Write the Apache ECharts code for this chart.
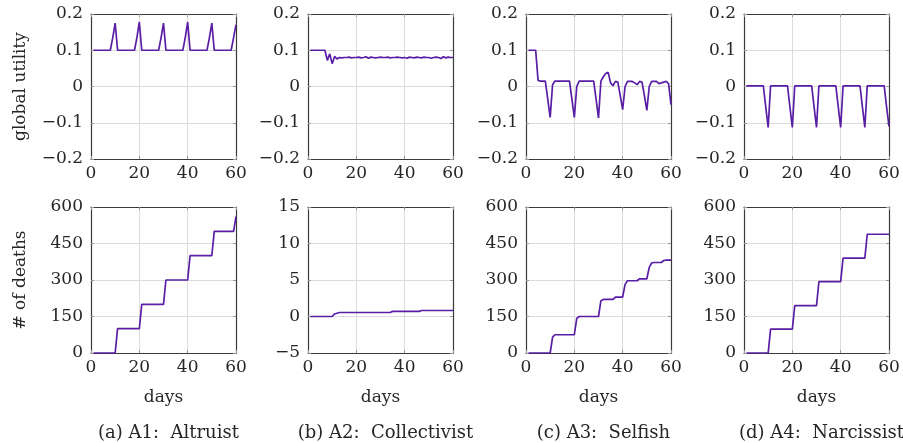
<!DOCTYPE html>
<html>
<head>
<meta charset="utf-8">
<script src="https://cdn.jsdelivr.net/npm/echarts@6/dist/echarts.min.js"></script>
<style>
html, body { margin: 0; padding: 0; background: #fff; }
#main { width: 903px; height: 443px; }
</style>
</head>
<body>
<div id="main"></div>
<script>
// days 1..60
var days = [1, 2, 3, 4, 5, 6, 7, 8, 9, 10, 11, 12, 13, 14, 15, 16, 17, 18, 19, 20,
	21, 22, 23, 24, 25, 26, 27, 28, 29, 30, 31, 32, 33, 34, 35, 36, 37, 38, 39, 40,
	41, 42, 43, 44, 45, 46, 47, 48, 49, 50, 51, 52, 53, 54, 55, 56, 57, 58, 59, 60];

// global utility
var utilA1 = [0.1, 0.1, 0.1, 0.1, 0.1, 0.1, 0.1, 0.1, 0.135, 0.175,
	0.1, 0.1, 0.1, 0.1, 0.1, 0.1, 0.1, 0.1, 0.135, 0.178,
	0.1, 0.1, 0.1, 0.1, 0.1, 0.1, 0.1, 0.1, 0.135, 0.175,
	0.1, 0.1, 0.1, 0.1, 0.1, 0.1, 0.1, 0.1, 0.135, 0.178,
	0.1, 0.1, 0.1, 0.1, 0.1, 0.1, 0.1, 0.1, 0.135, 0.175,
	0.1, 0.1, 0.1, 0.1, 0.1, 0.1, 0.1, 0.1, 0.135, 0.17];
var utilA2 = [0.1, 0.1, 0.1, 0.1, 0.1, 0.1, 0.1, 0.072, 0.09, 0.063,
	0.083, 0.076, 0.08, 0.079, 0.08, 0.08, 0.081, 0.079, 0.08, 0.08,
	0.081, 0.079, 0.08, 0.082, 0.078, 0.081, 0.08, 0.079, 0.08, 0.081,
	0.08, 0.08, 0.081, 0.079, 0.08, 0.08, 0.081, 0.08, 0.079, 0.08,
	0.078, 0.081, 0.08, 0.079, 0.081, 0.08, 0.079, 0.081, 0.08, 0.08,
	0.078, 0.08, 0.081, 0.08, 0.077, 0.082, 0.079, 0.081, 0.08, 0.08];
var utilA3 = [0.1, 0.1, 0.1, 0.1, 0.017, 0.015, 0.015, 0.015, -0.035, -0.085,
	0.005, 0.015, 0.015, 0.015, 0.015, 0.015, 0.015, 0.015, -0.035, -0.085,
	0.0, 0.015, 0.015, 0.015, 0.015, 0.015, 0.015, 0.015, -0.035, -0.087,
	0.015, 0.027, 0.036, 0.039, 0.01, 0.002, 0.014, 0.012, -0.025, -0.064,
	0.0, 0.014, 0.014, 0.014, 0.01, 0.005, 0.014, 0.012, -0.025, -0.066,
	0.0, 0.014, 0.014, 0.014, 0.008, 0.01, 0.012, 0.014, 0.008, -0.05];
var utilA4 = [0.002, 0.002, 0.002, 0.002, 0.002, 0.002, 0.002, 0.002, -0.056, -0.113,
	0.002, 0.002, 0.002, 0.002, 0.002, 0.002, 0.002, 0.002, -0.056, -0.113,
	0.002, 0.002, 0.002, 0.002, 0.002, 0.002, 0.002, 0.002, -0.056, -0.113,
	0.002, 0.002, 0.002, 0.002, 0.002, 0.002, 0.002, 0.002, -0.056, -0.113,
	0.002, 0.002, 0.002, 0.002, 0.002, 0.002, 0.002, 0.002, -0.056, -0.113,
	0.002, 0.002, 0.002, 0.002, 0.002, 0.002, 0.002, 0.002, -0.056, -0.11];

// # of deaths
var deathsA1 = [0, 0, 0, 0, 0, 0, 0, 0, 0, 0,
	100, 100, 100, 100, 100, 100, 100, 100, 100, 100,
	200, 200, 200, 200, 200, 200, 200, 200, 200, 200,
	300, 300, 300, 300, 300, 300, 300, 300, 300, 300,
	400, 400, 400, 400, 400, 400, 400, 400, 400, 400,
	500, 500, 500, 500, 500, 500, 500, 500, 500, 560];
var deathsA2 = [0, 0, 0, 0, 0, 0, 0, 0, 0, 0,
	0.35, 0.45, 0.55, 0.55, 0.55, 0.55, 0.55, 0.55, 0.55, 0.55,
	0.55, 0.55, 0.55, 0.55, 0.55, 0.55, 0.55, 0.55, 0.55, 0.55,
	0.55, 0.55, 0.55, 0.55, 0.7, 0.7, 0.7, 0.7, 0.7, 0.7,
	0.7, 0.7, 0.7, 0.7, 0.7, 0.7, 0.82, 0.82, 0.82, 0.82,
	0.82, 0.82, 0.82, 0.82, 0.82, 0.82, 0.82, 0.82, 0.82, 0.82];
var deathsA3 = [0, 0, 0, 0, 0, 0, 0, 0, 0, 0,
	65, 75, 75, 75, 75, 75, 75, 75, 75, 75,
	142, 150, 150, 150, 150, 150, 150, 150, 150, 150,
	215, 220, 220, 220, 220, 220, 230, 230, 230, 230,
	282, 297, 297, 297, 297, 297, 305, 305, 305, 305,
	352, 370, 372, 372, 372, 372, 380, 382, 382, 382];
var deathsA4 = [0, 0, 0, 0, 0, 0, 0, 0, 0, 0,
	98, 98, 98, 98, 98, 98, 98, 98, 98, 98,
	195, 195, 195, 195, 195, 195, 195, 195, 195, 195,
	293, 293, 293, 293, 293, 293, 293, 293, 293, 293,
	390, 390, 390, 390, 390, 390, 390, 390, 390, 390,
	488, 488, 488, 488, 488, 488, 488, 488, 488, 488];

var captions = ['(a) A1:  Altruist', '(b) A2:  Collectivist', '(c) A3:  Selfish', '(d) A4:  Narcissist'];
var xTicks = [0, 20, 40, 60];
var utilAxis = { min: -0.2, max: 0.2, interval: 0.1 };
var deathAxes = [
	{ min: 0, max: 600, interval: 150 },
	{ min: -5, max: 15, interval: 5 },
	{ min: 0, max: 600, interval: 150 },
	{ min: 0, max: 600, interval: 150 }
];

var topSeries = [utilA1, utilA2, utilA3, utilA4];
var botSeries = [deathsA1, deathsA2, deathsA3, deathsA4];

var FONT = 'DejaVu Serif';
var TXT = '#262626';
var LINE = '#5a1ea6';
var FRAME = '#3a3a3a';
var lefts = [91, 308, 526, 744];
var W = 145;

var grids = [], xAxes = [], yAxes = [], series = [], titles = [];

function fmt(v) {
	var s = String(Math.round(v * 10) / 10);
	if (v < 0) s = '\u2212' + s.slice(1);
	return s;
}

function addPanel(col, row, values, yr, yName) {
	var gi = grids.length;
	grids.push({
		left: lefts[col], top: row == 0 ? 14 : 207, width: W, height: row == 0 ? 145 : 146
	});
	var tickStyle = { show: true, inside: true, length: 3, lineStyle: { color: '#999' } };
	var frame = { show: true, onZero: false, lineStyle: { color: FRAME, width: 1.2 } };
	xAxes.push({
		gridIndex: gi, type: 'value', min: xTicks[0], max: xTicks[xTicks.length - 1], interval: 20,
		position: 'bottom',
		axisLine: frame, axisTick: tickStyle,
		splitLine: { show: true, lineStyle: { color: '#dcdcdc' } },
		axisLabel: { margin: 6, fontFamily: FONT, fontSize: 17, color: TXT },
		name: row == 1 ? 'days' : '', nameLocation: 'middle', nameGap: 36,
		nameTextStyle: { fontFamily: FONT, fontSize: 17, color: TXT }
	});
	xAxes.push({
		gridIndex: gi, type: 'value', min: 0, max: 60, interval: 20, position: 'top',
		axisLine: frame, axisTick: tickStyle, axisLabel: { show: false }, splitLine: { show: false }
	});
	yAxes.push({
		gridIndex: gi, type: 'value', min: yr.min, max: yr.max, interval: yr.interval,
		position: 'left',
		axisLine: frame, axisTick: tickStyle,
		splitLine: { show: true, lineStyle: { color: '#dcdcdc' } },
		axisLabel: {
			margin: 8, fontFamily: FONT, fontSize: 17, color: TXT,
			formatter: function (v) { return yr.interval < 1 ? (v == 0 ? '0' : fmt(v)) : (v < 0 ? '\u2212' + (-v) : String(v)); }
		},
		name: yName || '', nameLocation: 'middle', nameGap: 62, nameRotate: 90,
		nameTextStyle: { fontFamily: FONT, fontSize: 17, color: TXT }
	});
	yAxes.push({
		gridIndex: gi, type: 'value', min: yr.min, max: yr.max, interval: yr.interval, position: 'right',
		axisLine: frame, axisTick: tickStyle, axisLabel: { show: false }, splitLine: { show: false }
	});
	var pts = days.map(function (d, i) { return [d, values[i]]; });
	series.push({
		type: 'line', xAxisIndex: xAxes.length - 2, yAxisIndex: yAxes.length - 2,
		data: pts, showSymbol: false, symbol: 'none', silent: true,
		lineStyle: { color: LINE, width: 1.7 }
	});
}

for (var c = 0; c < 4; c++) {
	addPanel(c, 0, topSeries[c], utilAxis, c == 0 ? 'global utility' : '');
	addPanel(c, 1, botSeries[c], deathAxes[c], c == 0 ? '# of deaths' : '');
	titles.push({
		text: captions[c], left: lefts[c] + W / 2, top: 419, textAlign: 'center',
		textStyle: { fontFamily: FONT, fontSize: 18, fontWeight: 'normal', color: TXT }
	});
}

var myChart = echarts.init(document.getElementById('main'));
option = {
	animation: false,
	title: titles,
	grid: grids,
	xAxis: xAxes,
	yAxis: yAxes,
	series: series
};
myChart.setOption(option);
</script>
</body>
</html>
